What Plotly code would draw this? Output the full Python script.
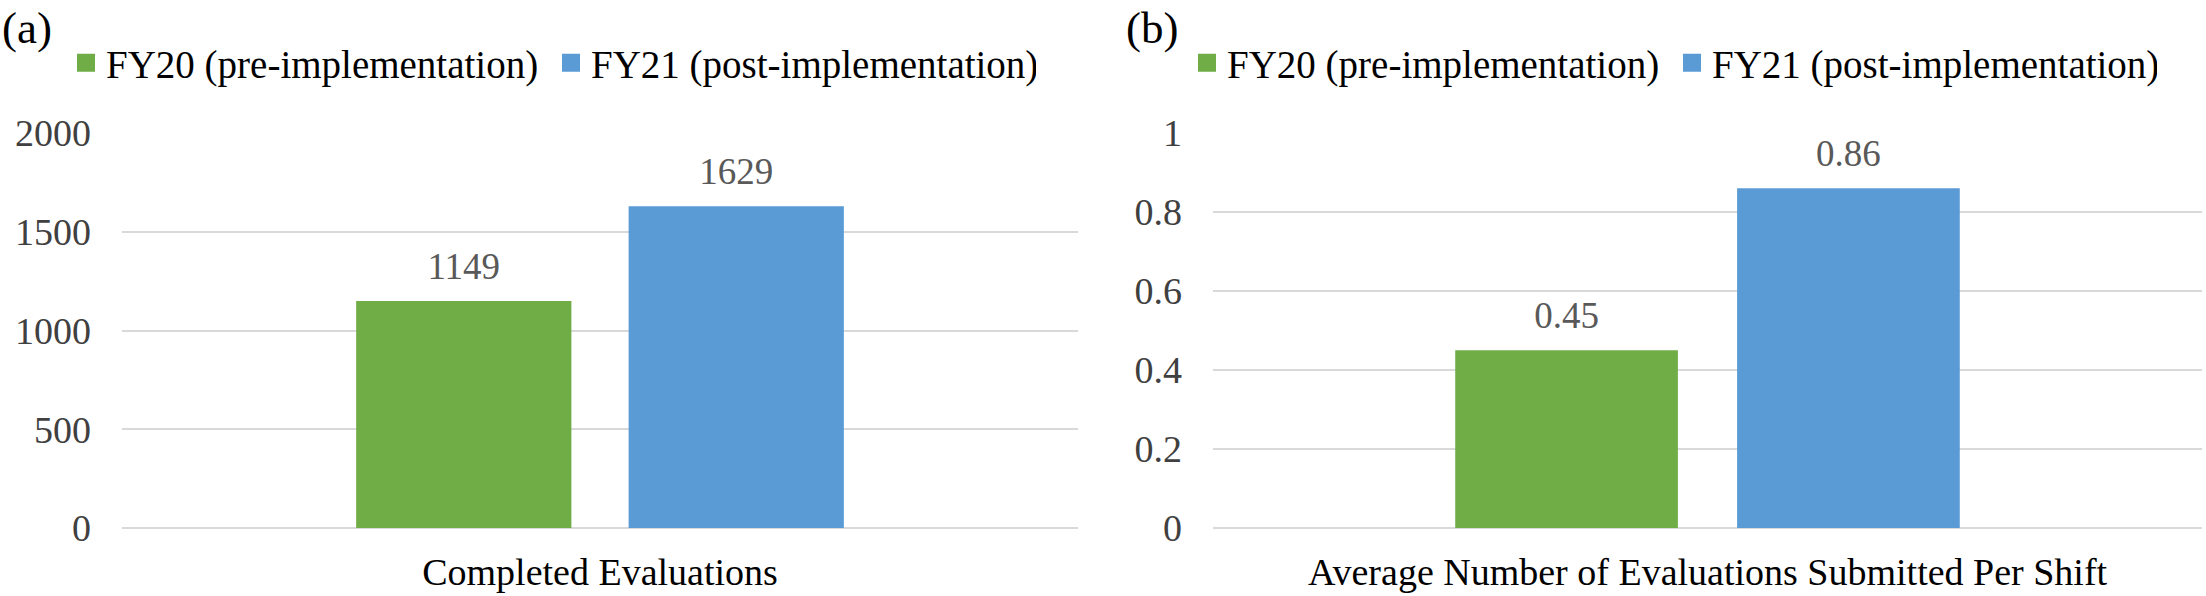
import plotly.graph_objects as go

W, H = 2206, 596

series_names = ["FY20 (pre-implementation)", "FY21 (post-implementation)"]
series_colors = ["#70AD47", "#5B9BD5"]

cat_a = ["Completed Evaluations"]
vals_a = [[1149], [1629]]
ticks_a = [0, 500, 1000, 1500, 2000]

cat_b = ["Average Number of Evaluations Submitted Per Shift"]
vals_b = [[0.45], [0.86]]
ticks_b = [0, 0.2, 0.4, 0.6, 0.8, 1]
tick_text_b = ["0", "0.2", "0.4", "0.6", "0.8", "1"]

FONT = "Liberation Serif, Times New Roman, serif"
BARGAP = 0.43

fig = go.Figure()

panels = [
    (cat_a, vals_a, "x", "y", "legend"),
    (cat_b, vals_b, "x2", "y2", "legend2"),
]
for cats, vals, xa, ya, lg in panels:
    for i in range(2):
        fig.add_trace(go.Bar(
            x=cats, y=vals[i], name=series_names[i],
            marker=dict(color=series_colors[i], line=dict(width=0)),
            offsetgroup=str(i), alignmentgroup=xa, showlegend=False,
            xaxis=xa, yaxis=ya, hoverinfo="skip",
        ))
    # value labels, grouped the same way as the bars
    for i in range(2):
        fig.add_trace(go.Scatter(
            x=cats, y=vals[i], mode="markers+text",
            text=[f"{v:g}" for v in vals[i]], textposition="top center",
            textfont=dict(family=FONT, size=37, color="#595959"),
            marker=dict(size=19, opacity=0, color=series_colors[i]),
            offsetgroup=str(i), alignmentgroup=xa,
            cliponaxis=False, showlegend=False, hoverinfo="skip",
            xaxis=xa, yaxis=ya,
        ))
    # legend entries (square swatches)
    for i in range(2):
        fig.add_trace(go.Scatter(
            x=[None], y=[None], mode="markers", name=series_names[i],
            marker=dict(symbol="square", size=16, color=series_colors[i],
                        line=dict(width=2, color=series_colors[i])),
            xaxis=xa, yaxis=ya, legend=lg, showlegend=True, hoverinfo="skip",
        ))

ybot = 68 / H
ytop = 1 - 133 / H
grid = dict(showgrid=True, gridcolor="#d9d9d9", gridwidth=2,
            zeroline=True, zerolinecolor="#d9d9d9", zerolinewidth=2,
            showline=False, ticks="", ticklabelstandoff=30,
            tickfont=dict(family=FONT, size=38, color="#404040"))
xax = dict(showgrid=False, zeroline=False, showline=False, ticks="",
           ticklabelstandoff=18,
           tickfont=dict(family=FONT, size=38, color="#000000"))

legend_common = dict(orientation="h", font=dict(family=FONT, size=39, color="#000000"),
                     bgcolor="rgba(0,0,0,0)", xanchor="left", yanchor="middle",
                     entrywidth=440, entrywidthmode="pixels",
                     itemclick=False, itemdoubleclick=False)

fig.update_layout(
    width=W, height=H,
    margin=dict(l=0, r=0, t=0, b=0, autoexpand=False),
    paper_bgcolor="white", plot_bgcolor="white",
    barmode="group", bargap=BARGAP, bargroupgap=0.21,
    scattermode="group", scattergap=BARGAP,
    font=dict(family=FONT),
    xaxis=dict(domain=[122 / W, 1078 / W], anchor="y", **xax),
    yaxis=dict(domain=[ybot, ytop], anchor="x", range=[0, 2000],
               tickvals=ticks_a, tickformat="d", **grid),
    xaxis2=dict(domain=[1213 / W, 2202 / W], anchor="y2", **xax),
    yaxis2=dict(domain=[ybot, ytop], anchor="x2", range=[0, 1],
                tickvals=ticks_b, ticktext=tick_text_b, **grid),
    legend=dict(x=66 / W, y=1 - 63 / H, **legend_common),
    legend2=dict(x=1187 / W, y=1 - 63 / H, **legend_common),
    showlegend=True,
    annotations=[
        dict(text="(a)", x=0, y=1 - 28 / H, xref="paper", yref="paper",
             xanchor="left", yanchor="middle", showarrow=False,
             font=dict(family=FONT, size=45, color="#000000")),
        dict(text="(b)", x=1124 / W, y=1 - 28 / H, xref="paper", yref="paper",
             xanchor="left", yanchor="middle", showarrow=False,
             font=dict(family=FONT, size=45, color="#000000")),
    ],
)

fig.write_html("out.html", config={"displayModeBar": False},
               post_script="document.body.style.margin='0';")
